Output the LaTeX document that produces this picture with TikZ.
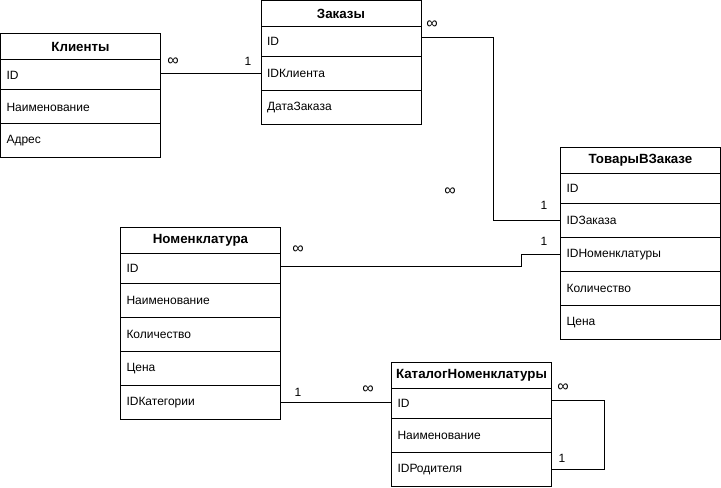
\documentclass[tikz,border=0pt]{standalone}
\usepackage{fontspec}
\setmainfont{Liberation Sans}
\usetikzlibrary{positioning}
\tikzstyle{headbox}  = [rectangle, draw, font=\bfseries, minimum width=120pt, minimum height=19.5pt, inner xsep=1pt, inner ysep=0pt, outer sep=0pt, anchor=north west]
\tikzstyle{rowbox}   = [rectangle, draw, text width=111pt, inner xsep=4.5pt, inner ysep=0pt, outer sep=0pt, align=left, minimum height=25.5pt]
\tikzstyle{firstrow} = [rowbox, minimum height=22.5pt]
\tikzstyle{card}     = [inner sep=1pt]
\tikzstyle{many}     = [card, font=\fontsize{12pt}{12pt}\selectfont]
\tikzstyle{line}     = [draw]

\begin{document}
\begin{tikzpicture}[x=0.75pt, y=-0.75pt, line width=0.75pt, node distance=0pt, font=\fontsize{9pt}{11pt}\selectfont]
  \useasboundingbox (0,0) rectangle (721,488);
  % Клиенты
  \node [headbox] (kl) at (0.5,34) {Клиенты};
  \node [firstrow, below=of kl] (kl-id) {ID};
  \node [rowbox, below=of kl-id] (kl-name) {Наименование};
  \node [rowbox, below=of kl-name] (kl-addr) {Адрес};
  % Заказы
  \node [headbox] (za) at (261,0.5) {Заказы};
  \node [firstrow, below=of za] (za-id) {ID};
  \node [rowbox, below=of za-id] (za-cl) {IDКлиента};
  \node [rowbox, below=of za-cl] (za-date) {ДатаЗаказа};
  % ТоварыВЗаказе
  \node [headbox] (tv) at (560.5,147.5) {ТоварыВЗаказе};
  \node [firstrow, below=of tv] (tv-id) {ID};
  \node [rowbox, below=of tv-id] (tv-ord) {IDЗаказа};
  \node [rowbox, below=of tv-ord] (tv-nom) {IDНоменклатуры};
  \node [rowbox, below=of tv-nom] (tv-qty) {Количество};
  \node [rowbox, below=of tv-qty] (tv-price) {Цена};
  % Номенклатура
  \node [headbox] (nm) at (120.5,227.5) {Номенклатура};
  \node [firstrow, below=of nm] (nm-id) {ID};
  \node [rowbox, below=of nm-id] (nm-name) {Наименование};
  \node [rowbox, below=of nm-name] (nm-qty) {Количество};
  \node [rowbox, below=of nm-qty] (nm-price) {Цена};
  \node [rowbox, below=of nm-price] (nm-cat) {IDКатегории};
  % КаталогНоменклатуры
  \node [headbox] (kt) at (391.5,362.5) {КаталогНоменклатуры};
  \node [firstrow, below=of kt] (kt-id) {ID};
  \node [rowbox, below=of kt-id] (kt-name) {Наименование};
  \node [rowbox, below=of kt-name] (kt-par) {IDРодителя};

  % связи
  \path [line] (za-cl.west -| kl-id.east) -- (za-cl.west);
  \path [line] ([yshift=3pt]za-id.east) -- ++(72,0) |- (tv-ord.west);
  \path [line] ([yshift=1.2pt]nm-id.east) -- ++(241,0) |- (tv-nom.west);
  \path [line] (nm-cat.east) -- (nm-cat.east -| kt-id.west);
  \path [line] ([yshift=2pt]kt-id.east) -- ++(53,0) |- (kt-par.east);

  % кратности
  \node [many] (m1) at (173,62) {∞};
  \node [card] (o1) at (248,61) {1};
  \node [many] (m2) at (432,25) {∞};
  \node [many] (m3) at (450,192) {∞};
  \node [card] (o2) at (544,205) {1};
  \node [card] (o3) at (544,241.5) {1};
  \node [many] (m4) at (298,250) {∞};
  \node [card] (o4) at (298,392) {1};
  \node [many] (m5) at (368,390) {∞};
  \node [many] (m6) at (563,388) {∞};
  \node [card] (o5) at (562,458) {1};
\end{tikzpicture}
\end{document}
